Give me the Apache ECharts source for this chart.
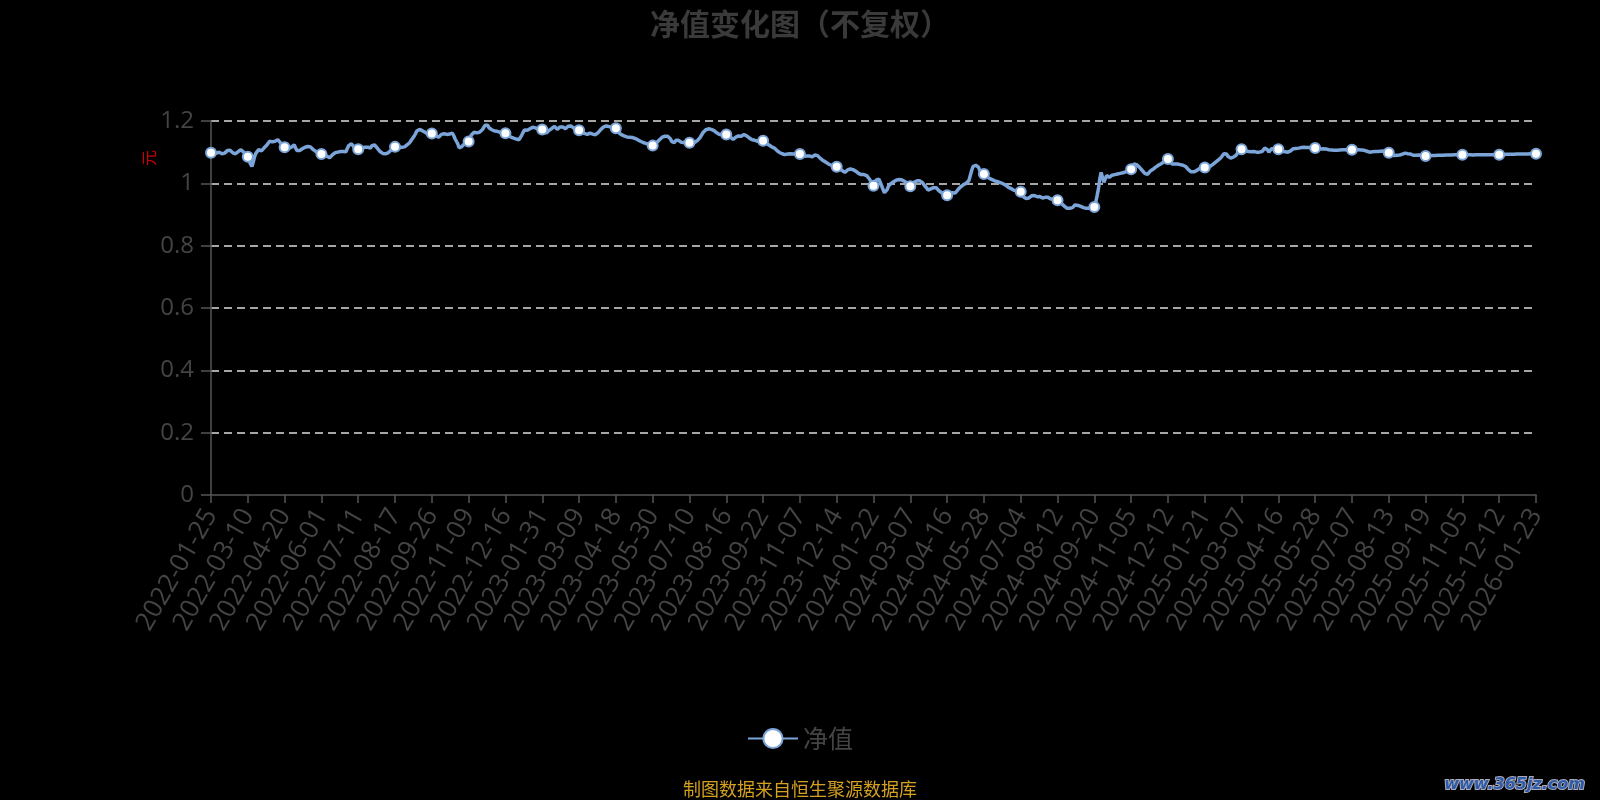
<!DOCTYPE html>
<html>
<head>
<meta charset="utf-8">
<script src="https://cdn.jsdelivr.net/npm/echarts@6/dist/echarts.min.js"></script>
<style>
html,body{margin:0;padding:0;background:#000;}
#main{width:1600px;height:800px;}
</style>
</head>
<body>
<div id="main"></div>
<script>
// Tick label dates (every 27th trading day)
const tickDates = ['2022-01-25','2022-03-10','2022-04-20','2022-06-01','2022-07-11','2022-08-17','2022-09-26','2022-11-09','2022-12-16','2023-01-31','2023-03-09','2023-04-18','2023-05-30','2023-07-10','2023-08-16','2023-09-22','2023-11-07','2023-12-14','2024-01-22','2024-03-07','2024-04-16','2024-05-28','2024-07-04','2024-08-12','2024-09-20','2024-11-05','2024-12-12','2025-01-21','2025-03-07','2025-04-16','2025-05-28','2025-07-07','2025-08-13','2025-09-19','2025-11-05','2025-12-12','2026-01-23'];

// Unit net value (元)
const navValues = [
1.098,1.097,1.095,1.095,1.097,1.099,1.100,1.098,1.095,1.092,1.097,1.101,1.105,1.108,1.106,1.102,1.098,1.096,1.095,1.097,1.102,1.106,1.108,1.103,1.100,1.095,1.089,
1.085,1.073,1.062,1.054,1.068,1.086,1.097,1.101,1.108,1.108,1.104,1.105,1.114,1.120,1.123,1.129,1.135,1.138,1.133,1.132,1.135,1.138,1.140,1.138,1.130,1.125,1.120,
1.116,1.115,1.114,1.112,1.111,1.116,1.121,1.124,1.114,1.105,1.103,1.105,1.108,1.111,1.114,1.116,1.117,1.118,1.119,1.117,1.113,1.108,1.104,1.102,1.099,1.097,1.095,
1.094,1.095,1.095,1.091,1.087,1.084,1.082,1.084,1.091,1.097,1.098,1.100,1.100,1.101,1.102,1.103,1.102,1.100,1.101,1.112,1.121,1.126,1.127,1.123,1.116,1.113,1.111,
1.109,1.111,1.113,1.114,1.115,1.116,1.118,1.116,1.110,1.113,1.121,1.127,1.123,1.117,1.113,1.108,1.102,1.098,1.096,1.095,1.095,1.095,1.098,1.102,1.106,1.112,1.116,
1.117,1.115,1.114,1.114,1.115,1.116,1.116,1.117,1.120,1.124,1.127,1.132,1.139,1.145,1.151,1.159,1.168,1.173,1.173,1.171,1.169,1.168,1.164,1.161,1.158,1.159,1.160,
1.160,1.158,1.155,1.153,1.148,1.148,1.154,1.157,1.158,1.159,1.158,1.157,1.157,1.158,1.160,1.161,1.154,1.143,1.135,1.127,1.114,1.112,1.118,1.123,1.127,1.130,1.132,
1.134,1.146,1.155,1.161,1.164,1.163,1.162,1.162,1.164,1.168,1.172,1.178,1.186,1.191,1.186,1.178,1.174,1.172,1.170,1.168,1.168,1.167,1.166,1.164,1.163,1.162,1.161,
1.161,1.159,1.155,1.152,1.148,1.146,1.145,1.143,1.142,1.141,1.140,1.146,1.155,1.164,1.171,1.169,1.170,1.172,1.175,1.178,1.180,1.181,1.178,1.176,1.174,1.173,1.173,
1.173,1.169,1.164,1.161,1.166,1.170,1.172,1.176,1.181,1.183,1.177,1.173,1.175,1.181,1.183,1.181,1.177,1.175,1.178,1.183,1.186,1.184,1.181,1.178,1.175,1.173,1.171,
1.170,1.167,1.163,1.161,1.160,1.158,1.157,1.159,1.161,1.160,1.158,1.157,1.156,1.159,1.163,1.169,1.173,1.177,1.181,1.184,1.184,1.183,1.182,1.181,1.180,1.180,1.178,
1.177,1.170,1.163,1.158,1.156,1.154,1.152,1.151,1.149,1.148,1.148,1.147,1.147,1.146,1.144,1.142,1.140,1.138,1.135,1.133,1.131,1.130,1.128,1.127,1.126,1.124,1.121,
1.121,1.125,1.128,1.131,1.135,1.140,1.144,1.148,1.149,1.151,1.151,1.151,1.149,1.143,1.134,1.128,1.131,1.138,1.140,1.138,1.134,1.132,1.132,1.131,1.131,1.130,1.130,
1.130,1.130,1.130,1.131,1.132,1.133,1.138,1.143,1.148,1.156,1.163,1.169,1.172,1.174,1.175,1.174,1.173,1.171,1.169,1.166,1.162,1.159,1.157,1.157,1.157,1.157,1.157,
1.157,1.155,1.152,1.148,1.144,1.141,1.142,1.148,1.154,1.152,1.148,1.151,1.155,1.157,1.155,1.152,1.148,1.145,1.143,1.140,1.138,1.138,1.137,1.135,1.135,1.137,1.138,
1.137,1.133,1.130,1.127,1.124,1.120,1.118,1.116,1.114,1.111,1.106,1.102,1.099,1.097,1.095,1.094,1.092,1.092,1.094,1.095,1.095,1.095,1.094,1.094,1.095,1.095,1.094,
1.094,1.091,1.089,1.087,1.087,1.088,1.089,1.088,1.085,1.085,1.088,1.091,1.092,1.089,1.085,1.080,1.076,1.073,1.070,1.068,1.065,1.062,1.060,1.058,1.056,1.055,1.054,
1.053,1.051,1.047,1.044,1.041,1.038,1.035,1.039,1.043,1.046,1.046,1.047,1.044,1.041,1.039,1.035,1.032,1.029,1.028,1.028,1.028,1.028,1.025,1.020,1.014,1.006,0.999,
0.992,1.000,1.011,1.017,1.013,1.003,0.992,0.980,0.970,0.968,0.980,0.991,0.996,1.000,1.003,1.006,1.009,1.011,1.012,1.012,1.011,1.011,1.009,1.006,1.003,0.998,0.994,
0.991,0.998,1.002,1.004,1.006,1.008,1.009,1.008,1.006,1.002,0.995,0.991,0.985,0.978,0.977,0.982,0.985,0.986,0.987,0.986,0.981,0.976,0.973,0.970,0.968,0.966,0.963,
0.962,0.966,0.969,0.971,0.970,0.968,0.969,0.974,0.980,0.985,0.989,0.992,0.996,0.998,1.000,1.002,1.009,1.025,1.041,1.054,1.059,1.058,1.056,1.052,1.041,1.033,1.031,
1.030,1.026,1.021,1.018,1.016,1.014,1.012,1.010,1.008,1.006,1.005,1.003,1.002,1.000,0.999,0.997,0.994,0.990,0.987,0.985,0.983,0.981,0.978,0.977,0.976,0.975,0.974,
0.973,0.966,0.957,0.953,0.951,0.950,0.953,0.957,0.960,0.963,0.961,0.958,0.957,0.958,0.958,0.956,0.953,0.952,0.955,0.957,0.955,0.951,0.950,0.950,0.950,0.949,0.948,
0.946,0.943,0.939,0.935,0.931,0.927,0.922,0.920,0.919,0.920,0.920,0.922,0.927,0.931,0.931,0.929,0.928,0.926,0.924,0.922,0.921,0.920,0.920,0.920,0.921,0.922,0.924,
0.924,0.939,0.960,0.982,1.014,1.035,1.019,1.003,1.014,1.025,1.023,1.019,1.023,1.026,1.028,1.028,1.029,1.030,1.031,1.032,1.033,1.034,1.035,1.037,1.039,1.041,1.043,
1.045,1.054,1.062,1.062,1.060,1.056,1.052,1.047,1.042,1.037,1.032,1.029,1.029,1.033,1.039,1.042,1.045,1.048,1.052,1.055,1.058,1.061,1.063,1.065,1.069,1.072,1.075,
1.078,1.073,1.067,1.062,1.062,1.062,1.062,1.062,1.061,1.060,1.059,1.058,1.057,1.054,1.048,1.044,1.040,1.037,1.035,1.037,1.039,1.041,1.044,1.047,1.048,1.049,1.051,
1.051,1.049,1.048,1.051,1.055,1.059,1.061,1.065,1.068,1.071,1.075,1.080,1.083,1.089,1.095,1.097,1.094,1.087,1.083,1.081,1.081,1.084,1.088,1.090,1.097,1.103,1.106,
1.109,1.108,1.106,1.105,1.104,1.102,1.100,1.101,1.102,1.102,1.101,1.100,1.100,1.100,1.101,1.102,1.106,1.113,1.116,1.108,1.100,1.106,1.111,1.112,1.111,1.110,1.109,
1.109,1.106,1.104,1.103,1.102,1.101,1.100,1.100,1.101,1.104,1.109,1.111,1.112,1.112,1.113,1.113,1.114,1.115,1.116,1.116,1.116,1.115,1.115,1.115,1.114,1.114,1.113,
1.113,1.112,1.111,1.111,1.110,1.111,1.111,1.110,1.110,1.109,1.108,1.107,1.107,1.106,1.106,1.105,1.106,1.106,1.107,1.107,1.108,1.108,1.108,1.107,1.107,1.107,1.108,
1.108,1.108,1.108,1.108,1.108,1.108,1.108,1.107,1.107,1.106,1.104,1.103,1.101,1.100,1.100,1.101,1.101,1.102,1.102,1.102,1.103,1.103,1.104,1.104,1.103,1.101,1.099,
1.098,1.095,1.092,1.090,1.089,1.089,1.090,1.091,1.091,1.092,1.094,1.096,1.097,1.096,1.095,1.095,1.094,1.092,1.090,1.089,1.090,1.091,1.091,1.090,1.089,1.088,1.088,
1.088,1.088,1.088,1.089,1.089,1.089,1.089,1.089,1.090,1.090,1.090,1.090,1.090,1.090,1.091,1.091,1.091,1.091,1.091,1.091,1.091,1.092,1.092,1.092,1.092,1.092,1.092,
1.092,1.092,1.091,1.091,1.092,1.092,1.092,1.092,1.091,1.092,1.092,1.092,1.092,1.092,1.092,1.092,1.092,1.092,1.092,1.092,1.092,1.092,1.092,1.092,1.092,1.092,1.092,
1.092,1.092,1.092,1.092,1.092,1.093,1.093,1.093,1.093,1.093,1.093,1.093,1.093,1.094,1.094,1.094,1.094,1.094,1.094,1.094,1.094,1.094,1.095,1.095,1.095,1.095,1.095,
1.095
];

const seriesName = '净值';
const titleText = '净值变化图（不复权）';
const footText = '制图数据来自恒生聚源数据库';
const unitText = '元';
const yTicks = { min: 0, max: 1.2, step: 0.2 };
const labelStep = 27;

// Build the full trading-day category list: each labelled date followed by
// the following weekdays up to the next labelled position (tooltip only).
function buildCategories() {
  const out = [];
  for (let k = 0; k < tickDates.length; k++) {
    out.push(tickDates[k]);
    if (k === tickDates.length - 1) break;
    const d = new Date(tickDates[k] + 'T00:00:00Z');
    let n = 0;
    while (n < labelStep - 1) {
      d.setUTCDate(d.getUTCDate() + 1);
      const wd = d.getUTCDay();
      if (wd === 0 || wd === 6) continue;
      out.push(d.toISOString().slice(0, 10));
      n++;
    }
  }
  return out;
}
const categories = buildCategories();

const lineColor = '#7ba4d9';
const chart = echarts.init(document.getElementById('main'));
chart.setOption({
  backgroundColor: '#000',
  animation: false,
  title: {
    text: titleText,
    left: 'center',
    top: 4,
    textStyle: { fontSize: 30, fontWeight: 'bold', color: '#3a3a3a', fontFamily: 'Noto Sans CJK SC' }
  },
  legend: {
    data: [seriesName],
    left: 'center',
    top: 721,
    itemWidth: 50,
    itemHeight: 24,
    itemGap: 10,
    textStyle: { fontSize: 25, color: '#444', fontFamily: 'Noto Sans CJK SC' }
  },
  grid: { left: 211, right: 64, top: 121, bottom: 305 },
  xAxis: {
    type: 'category',
    data: categories,
    boundaryGap: false,
    axisLine: { lineStyle: { color: '#555', width: 1.5 } },
    axisTick: { interval: labelStep - 1, length: 8, lineStyle: { color: '#555', width: 1.5 } },
    axisLabel: {
      interval: labelStep - 1,
      rotate: 60,
      margin: 16,
      fontSize: 26,
      color: '#444',
      fontFamily: 'Open Sans'
    },
    splitLine: { show: false }
  },
  yAxis: {
    type: 'value',
    min: yTicks.min,
    max: yTicks.max,
    interval: yTicks.step,
    axisLine: { show: true, lineStyle: { color: '#555', width: 1.5 } },
    axisTick: { show: true, length: 10, lineStyle: { color: '#555', width: 1.5 } },
    axisLabel: { fontSize: 24, color: '#444', margin: 17, fontFamily: 'Open Sans' },
    splitLine: { show: true, showMinLine: false, lineStyle: { type: [8, 5], color: '#ddd', width: 1.5 } }
  },
  graphic: [
    {
      type: 'text', left: 141, top: 150, rotation: Math.PI / 2,
      style: { text: unitText, fontSize: 16, fill: '#d00000', fontFamily: 'Noto Sans CJK SC' }
    },
    {
      type: 'text', left: 'center', top: 780,
      style: { text: footText, fontSize: 18, fill: '#d4a020', fontFamily: 'Noto Sans CJK SC' }
    },
    {
      type: 'text', right: 14, top: 776,
      style: { text: 'www.365jz.com', fontSize: 16, fontWeight: 'bold', fontStyle: 'italic', fill: '#2f5ca8', stroke: '#aab', lineWidth: 2, fontFamily: 'DejaVu Sans' }
    }
  ],
  series: [{
    name: seriesName,
    type: 'line',
    data: navValues,
    symbol: 'circle',
    symbolSize: 10,
    showAllSymbol: 'auto',
    lineStyle: { color: lineColor, width: 3.5 },
    itemStyle: { color: '#fff', borderColor: lineColor, borderWidth: 2 }
  }]
});
</script>
</body>
</html>
